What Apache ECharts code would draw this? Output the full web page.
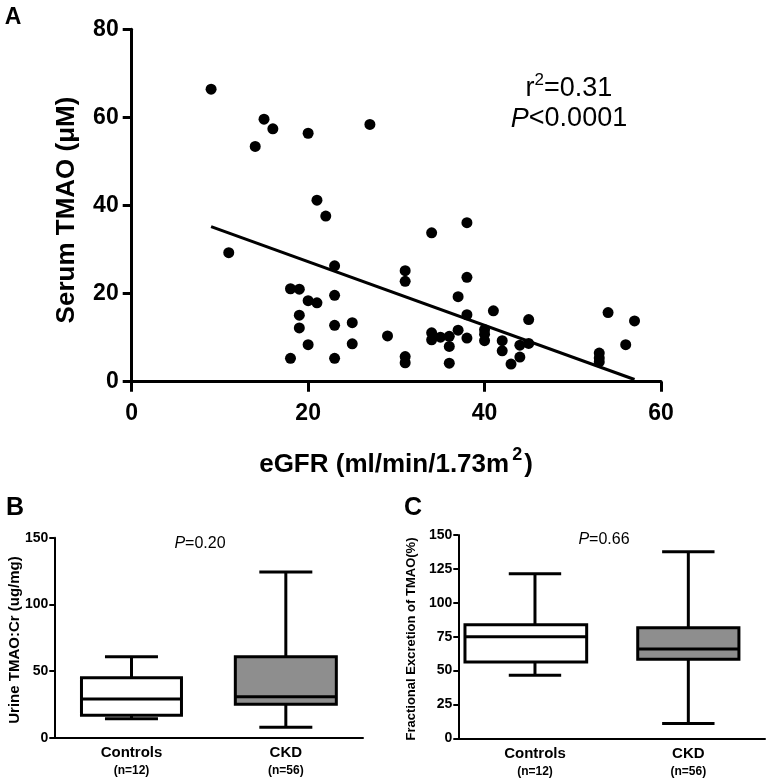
<!DOCTYPE html>
<html>
<head>
<meta charset="utf-8">
<style>html,body{margin:0;padding:0;background:#fff;}#c{width:768px;height:781px;}</style>
<script src="https://cdn.jsdelivr.net/npm/echarts@6/dist/echarts.min.js"></script>
</head>
<body>
<div id="c"></div>
<script>
// ---- Panel A data: eGFR vs serum TMAO ----
const egfr = [9,15,16,14,20,27,21,22,11,18,19,23,20,21,23,19,19,23,25,20,25,29,18,23,
  34,38,31,31,38,37,41,38,45,54,57,34,34,35,36,37,38,36,40,40,40,42,42,44,45,44,43,31,31,36,53,53,53,56];
const tmao = [66.4,59.6,57.4,53.4,56.4,58.4,41.2,37.6,29.3,21.1,21.0,26.3,18.4,17.9,19.6,15.1,12.2,12.8,13.4,8.4,8.6,10.4,5.3,5.3,
  33.8,36.1,25.2,22.8,23.7,19.3,16.1,15.2,14.1,15.7,13.8,11.1,9.5,10.1,10.3,11.7,9.9,8.0,11.8,10.8,9.3,9.3,7.0,8.3,8.7,5.6,4.0,5.7,4.3,4.2,6.5,5.4,4.5,8.4];
const trendX = [9, 57];
const trendY = [35.2, 0.5];

// ---- Panels B & C data: box stats [min, q1, median, q3, max] ----
const boxCategories = ['Controls', 'CKD'];
const boxN = ['(n=12)', '(n=56)'];
const urineStats = [[14.3, 16.8, 29.0, 45.0, 60.8], [7.8, 25.0, 30.8, 60.8, 124.3]];
const feStats = [[46.5, 56.3, 75.0, 83.8, 121.4], [11.0, 58.3, 65.9, 81.6, 137.7]];

const FONT = '"Liberation Sans", Arial, Helvetica, sans-serif';

function boxRenderer(cfg) {
  return function (params, api) {
    const i = api.value(0);
    const c = v => api.coord([i, v]);
    const cx = c(api.value(3))[0];
    const yMin = c(api.value(1))[1], yQ1 = c(api.value(2))[1], yMd = c(api.value(3))[1],
          yQ3 = c(api.value(4))[1], yMax = c(api.value(5))[1];
    const hl = cfg.halfLeft[params.dataIndex], hr = cfg.halfRight[params.dataIndex], cap = cfg.cap;
    const ls = {stroke: '#000', lineWidth: 3};
    return {type: 'group', children: [
      {type: 'line', shape: {x1: cx, y1: yQ3, x2: cx, y2: yMax}, style: ls},
      {type: 'line', shape: {x1: cx - cap, y1: yMax, x2: cx + cap, y2: yMax}, style: ls},
      {type: 'line', shape: {x1: cx, y1: yQ1, x2: cx, y2: yMin}, style: ls},
      {type: 'line', shape: {x1: cx - cap, y1: yMin, x2: cx + cap, y2: yMin}, style: ls},
      {type: 'rect', shape: {x: cx - hl, y: yQ3, width: hl + hr, height: yQ1 - yQ3},
        style: {fill: cfg.fills[params.dataIndex], stroke: '#000', lineWidth: 3}},
      {type: 'line', shape: {x1: cx - hl, y1: yMd, x2: cx + hr, y2: yMd}, style: ls}
    ]};
  };
}

function catAxis(gridIndex) {
  return {
    type: 'category', gridIndex, data: boxCategories,
    axisLine: {lineStyle: {color: '#000', width: 2}},
    axisTick: {alignWithLabel: true, length: 6, lineStyle: {color: '#000', width: 2}},
    axisLabel: {
      margin: 7,
      formatter: (v, idx) => '{a|' + v + '}\n{b|' + boxN[idx] + '}',
      rich: {
        a: {fontFamily: FONT, fontWeight: 'bold', fontSize: 15, color: '#000', lineHeight: 17},
        b: {fontFamily: FONT, fontWeight: 'bold', fontSize: 12, color: '#000', lineHeight: 18}
      }
    }
  };
}
function valAxisSmall(gridIndex, interval, fs) {
  return {
    type: 'value', gridIndex, min: 0, max: 150, interval,
    axisLine: {show: true, lineStyle: {color: '#000', width: 2}},
    axisTick: {show: true, length: 5, lineStyle: {color: '#000', width: 2}},
    splitLine: {show: false},
    axisLabel: {margin: 6, fontFamily: FONT, fontWeight: 'bold', fontSize: fs, color: '#000'}
  };
}

const chart = echarts.init(document.getElementById('c'), null, {renderer: 'canvas'});
chart.setOption({
  animation: false,
  backgroundColor: '#fff',
  grid: [
    {left: 131.7, right: 107, top: 29.3, bottom: 399.3},
    {left: 54.3, right: 405, top: 537.7, bottom: 43.3},
    {left: 458.3, right: 3, top: 535, bottom: 42.7}
  ],
  xAxis: [
    {
      type: 'value', gridIndex: 0, min: 0, max: 60, interval: 20,
      axisLine: {lineStyle: {color: '#000', width: 3}},
      axisTick: {length: 10, lineStyle: {color: '#000', width: 3}},
      splitLine: {show: false},
      axisLabel: {margin: 20, fontFamily: FONT, fontWeight: 'bold', fontSize: 23, color: '#000'}
    },
    catAxis(1), catAxis(2)
  ],
  yAxis: [
    {
      type: 'value', gridIndex: 0, min: 0, max: 80, interval: 20,
      axisLine: {show: true, lineStyle: {color: '#000', width: 3}},
      axisTick: {show: true, length: 9, lineStyle: {color: '#000', width: 3}},
      splitLine: {show: false},
      axisLabel: {margin: 13, fontFamily: FONT, fontWeight: 'bold', fontSize: 23, color: '#000'}
    },
    valAxisSmall(1, 50, 14), valAxisSmall(2, 25, 14)
  ],
  series: [
    {
      type: 'scatter', xAxisIndex: 0, yAxisIndex: 0, symbolSize: 11,
      itemStyle: {color: '#000', opacity: 1},
      data: egfr.map((x, i) => [x, tmao[i]])
    },
    {
      type: 'line', xAxisIndex: 0, yAxisIndex: 0, showSymbol: false, symbol: 'none',
      lineStyle: {color: '#000', width: 3},
      data: trendX.map((x, i) => [x, trendY[i]])
    },
    {
      type: 'custom', xAxisIndex: 1, yAxisIndex: 1,
      renderItem: boxRenderer({halfLeft: [50, 50.5], halfRight: [50, 50.5], cap: 26.5, fills: ['#fff', '#8e8e8e']}),
      encode: {x: 0, y: [1, 2, 3, 4, 5]},
      data: urineStats.map((s, i) => [i].concat(s))
    },
    {
      type: 'custom', xAxisIndex: 2, yAxisIndex: 2,
      renderItem: boxRenderer({halfLeft: [70, 50.6], halfRight: [51.7, 50.6], cap: 26.2, fills: ['#fff', '#8e8e8e']}),
      encode: {x: 0, y: [1, 2, 3, 4, 5]},
      data: feStats.map((s, i) => [i].concat(s))
    }
  ],
  graphic: [
    {type: 'text', x: 13, y: 18, style: {text: 'A', fontFamily: FONT, fontWeight: 'bold', fontSize: 23, fill: '#000', align: 'center', verticalAlign: 'middle'}},
    {type: 'text', x: 15, y: 508, style: {text: 'B', fontFamily: FONT, fontWeight: 'bold', fontSize: 25, fill: '#000', align: 'center', verticalAlign: 'middle'}},
    {type: 'text', x: 413, y: 508, style: {text: 'C', fontFamily: FONT, fontWeight: 'bold', fontSize: 25, fill: '#000', align: 'center', verticalAlign: 'middle'}},
    {type: 'text', x: 67, y: 210, rotation: Math.PI / 2,
      style: {text: 'Serum TMAO (\u03bcM)', fontFamily: FONT, fontWeight: 'bold', fontSize: 26, fill: '#000', align: 'center', verticalAlign: 'middle'}},
    {type: 'text', x: 396, y: 462,
      style: {text: '{t|eGFR (ml/min/1.73m}{s|2}{t|)}', align: 'center', verticalAlign: 'middle',
        rich: {
          t: {fontFamily: FONT, fontWeight: 'bold', fontSize: 26, fill: '#000', lineHeight: 32, verticalAlign: 'bottom'},
          s: {fontFamily: FONT, fontWeight: 'bold', fontSize: 18, fill: '#000', lineHeight: 32, verticalAlign: 'top', padding: [0, 2, 0, 3]}
        }}},
    {type: 'text', x: 569, y: 87,
      style: {text: '{t|r}{s|2}{t|=0.31}', align: 'center', verticalAlign: 'middle',
        rich: {
          t: {fontFamily: FONT, fontSize: 27, fill: '#000', lineHeight: 30, verticalAlign: 'bottom'},
          s: {fontFamily: FONT, fontSize: 17, fill: '#000', lineHeight: 30, verticalAlign: 'top'}
        }}},
    {type: 'text', x: 569, y: 119,
      style: {text: '{i|P}{t|<0.0001}', align: 'center', verticalAlign: 'middle',
        rich: {
          i: {fontFamily: FONT, fontSize: 27, fontStyle: 'italic', fill: '#000'},
          t: {fontFamily: FONT, fontSize: 27, fill: '#000'}
        }}},
    {type: 'text', x: 200, y: 544,
      style: {text: '{i|P}{t|=0.20}', align: 'center', verticalAlign: 'middle',
        rich: {
          i: {fontFamily: FONT, fontSize: 16, fontStyle: 'italic', fill: '#000'},
          t: {fontFamily: FONT, fontSize: 16, fill: '#000'}
        }}},
    {type: 'text', x: 604, y: 540,
      style: {text: '{i|P}{t|=0.66}', align: 'center', verticalAlign: 'middle',
        rich: {
          i: {fontFamily: FONT, fontSize: 16, fontStyle: 'italic', fill: '#000'},
          t: {fontFamily: FONT, fontSize: 16, fill: '#000'}
        }}},
    {type: 'text', x: 15, y: 640, rotation: Math.PI / 2,
      style: {text: 'Urine TMAO:Cr (ug/mg)', fontFamily: FONT, fontWeight: 'bold', fontSize: 15, fill: '#000', align: 'center', verticalAlign: 'middle'}},
    {type: 'text', x: 411, y: 639, rotation: Math.PI / 2,
      style: {text: 'Fractional Excretion of TMAO(%)', fontFamily: FONT, fontWeight: 'bold', fontSize: 13, fill: '#000', align: 'center', verticalAlign: 'middle'}}
  ]
});
</script>
</body>
</html>
